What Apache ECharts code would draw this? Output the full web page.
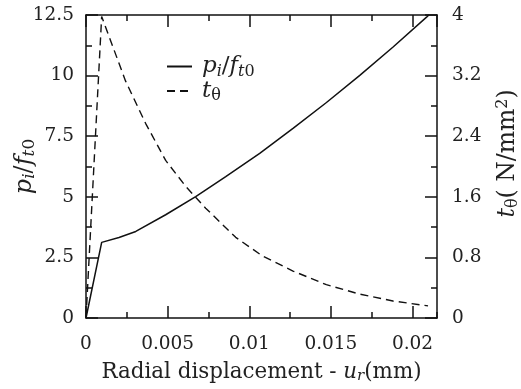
<!DOCTYPE html>
<html><head><meta charset="utf-8">
<script src="https://cdn.jsdelivr.net/npm/echarts@6/dist/echarts.min.js"></script>
<style>html,body{margin:0;padding:0;background:#fff}#c{width:521px;height:389px}</style>
</head><body><div id="c"></div>
<script>
// Radial displacement u_r (mm) and normalised internal pressure p_i/f_t0 (left axis)
const uP = [0, 0.00096, 0.00202, 0.00305, 0.00488, 0.00672, 0.00856, 0.01064, 0.01268, 0.01473, 0.01677, 0.01881, 0.02086, 0.0210];
const pRatio = [0, 3.12, 3.32, 3.57, 4.26, 5.01, 5.83, 6.79, 7.82, 8.89, 10.01, 11.18, 12.41, 12.5];
// Radial displacement u_r (mm) and t_theta (N/mm^2) (right axis)
const uT = [0, 0.00096, 0.00242, 0.00365, 0.00488, 0.0061, 0.00673, 0.00733, 0.00917, 0.0108, 0.01268, 0.01472, 0.01677, 0.0188, 0.02095];
const tTheta = [0, 3.98, 3.13, 2.57, 2.08, 1.74, 1.59, 1.45, 1.065, 0.82, 0.62, 0.44, 0.315, 0.225, 0.16];
// tick labels
const xTickLabels = ['0', '0.005', '0.01', '0.015', '0.02'];
const yLeftTickLabels = ['0', '2.5', '5', '7.5', '10', '12.5'];
const yRightTickLabels = ['0', '0.8', '1.6', '2.4', '3.2', '4'];

const FONT = 'DejaVu Serif';
const FS = 18.5;
const INK = '#222';
const lineStyle = {color: '#111', width: 1.5};
function mkRich(size, sub, shift) {
  return {
    n: {fontFamily: FONT, fontSize: size, color: INK},
    i: {fontFamily: FONT, fontSize: size, fontStyle: 'italic', color: INK},
    s: {fontFamily: FONT, fontSize: sub, fontStyle: 'italic', color: INK, padding: [shift, 0, 0, 0]},
    s0: {fontFamily: FONT, fontSize: sub, color: INK, padding: [shift, 0, 0, 0]},
    sup: {fontFamily: FONT, fontSize: sub, color: INK, padding: [0, 0, shift, 0]}
  };
}
function pick(labels, step) {
  return function (v) { const k = Math.round(v / step); return Math.abs(k * step - v) < 1e-9 && labels[k] !== undefined ? labels[k] : ''; };
}
const mainLine = {show: true, onZero: false, lineStyle: lineStyle};
const baseX = {type: 'value', min: 0, max: 0.0215, splitLine: {show: false}};
function minorAxis(base, pos, interval) {
  return Object.assign({}, base, {
    position: pos, interval: interval,
    axisLine: {show: false, onZero: false},
    axisTick: {show: true, inside: true, length: 6, lineStyle: lineStyle},
    axisLabel: {show: false}
  });
}
const baseYL = {type: 'value', min: 0, max: 12.5, splitLine: {show: false}};
const baseYR = {type: 'value', min: 0, max: 4, splitLine: {show: false}};
const chart = echarts.init(document.getElementById('c'), null, {renderer: 'canvas'});
chart.setOption({
  animation: false,
  backgroundColor: '#fff',
  grid: {left: 86, right: 84, top: 15, bottom: 71, containLabel: false, outerBoundsMode: 'none'},
  legend: {
    orient: 'vertical', left: 161, top: 50, itemWidth: 25, itemHeight: 14, itemGap: 0,
    itemStyle: {color: 'transparent', borderColor: 'transparent', borderWidth: 0, opacity: 0},
    formatter: function (name) {
      return name === 'p' ? '{i|p}{s|i}{n|/}{i|f}{s|t}{s0|0}' : '{i|t}{s0|θ}';
    },
    textStyle: {rich: mkRich(23, 16, 10), padding: [0, 0, 0, 5]},
    data: [{name: 'p'}, {name: 't'}]
  },
  xAxis: [
    Object.assign({}, baseX, {
      position: 'bottom', interval: 0.005,
      axisLine: mainLine,
      axisTick: {inside: true, length: 12, lineStyle: lineStyle},
      axisLabel: {fontFamily: FONT, fontSize: FS, color: INK, margin: 17, showMaxLabel: false, formatter: pick(xTickLabels, 0.005)},
      name: '{n|Radial displacement - }{i|u}{s|r}{n|(mm)}', nameLocation: 'middle', nameGap: 42, nameMoveOverlap: false,
      nameTextStyle: {rich: mkRich(21.4, 15, 9)}
    }),
    minorAxis(baseX, 'bottom', 0.0025),
    Object.assign({}, baseX, {
      position: 'top', interval: 0.005,
      axisLine: mainLine, axisTick: {inside: true, length: 12, lineStyle: lineStyle}, axisLabel: {show: false}
    }),
    minorAxis(baseX, 'top', 0.0025)
  ],
  yAxis: [
    Object.assign({}, baseYL, {
      position: 'left', interval: 2.5,
      axisLine: mainLine,
      axisTick: {show: true, inside: true, length: 12, lineStyle: lineStyle},
      axisLabel: {fontFamily: FONT, fontSize: FS, color: INK, margin: 12, formatter: pick(yLeftTickLabels, 2.5)},
      name: '{i|p}{s|i}{n|/}{i|f}{s|t}{s0|0}', nameLocation: 'middle', nameGap: 48, nameRotate: 90, nameMoveOverlap: false,
      nameTextStyle: {rich: mkRich(24, 17, 10)}
    }),
    Object.assign({}, baseYR, {
      position: 'right', interval: 0.8,
      axisLine: mainLine,
      axisTick: {show: true, inside: true, length: 12, lineStyle: lineStyle},
      axisLabel: {fontFamily: FONT, fontSize: FS, color: INK, margin: 15, formatter: pick(yRightTickLabels, 0.8)},
      name: '{i|t}{s0|θ}{n|( N/mm}{sup|2}{n|)}', nameLocation: 'middle', nameGap: 58, nameRotate: 90, nameMoveOverlap: false,
      nameTextStyle: {rich: mkRich(23.5, 16, 10), padding: [0, 0, 0, 26]}
    }),
    minorAxis(baseYL, 'left', 1.25),
    minorAxis(baseYR, 'right', 0.4)
  ],
  series: [
    {
      name: 'p', type: 'line', xAxisIndex: 0, yAxisIndex: 0, showSymbol: false, symbol: 'none',
      lineStyle: {color: '#111', width: 1.5, type: 'solid'}, itemStyle: {color: '#111'},
      data: uP.map((u, k) => [u, pRatio[k]])
    },
    {
      name: 't', type: 'line', xAxisIndex: 0, yAxisIndex: 1, showSymbol: false, symbol: 'none',
      lineStyle: {color: '#111', width: 1.4, type: [8, 5]}, itemStyle: {color: '#111'},
      data: uT.map((u, k) => [u, tTheta[k]])
    }
  ]
});
</script></body></html>
